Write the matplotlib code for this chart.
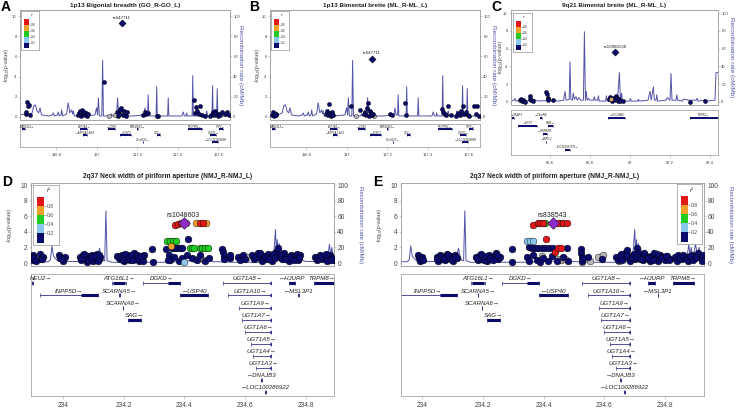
import numpy as np
import matplotlib
matplotlib.use("Agg")
import matplotlib.pyplot as plt

plt.rcParams['font.family'] = ['Liberation Sans', 'DejaVu Sans']

# ---------------- LD legend ----------------
r2_breaks = [0.0, 0.2, 0.4, 0.6, 0.8, 1.0]
r2_colors = ['#0B0B6E', '#8CC8EE', '#22CC22', '#F2A22A', '#E01818']
na_color = '#B8B8B8'
index_color = '#8E2BC9'

# ---------------- panel A : 1p13 GO ----------------
a_navy_pos = [116.648, 116.652, 116.656, 116.660, 116.664, 116.668,
              116.905, 116.910, 116.915, 116.920, 116.925, 116.930, 116.935, 116.940, 116.945, 116.950, 116.955,
              117.035,
              117.100, 117.105, 117.110, 117.115, 117.120, 117.130, 117.135, 117.140, 117.145, 117.150,
              117.228, 117.236, 117.244, 117.252, 117.295, 117.300,
              117.478, 117.484, 117.490, 117.496, 117.502, 117.510, 117.520, 117.535,
              117.560, 117.566, 117.572, 117.578, 117.584, 117.590, 117.596, 117.602, 117.610, 117.618,
              117.632, 117.642, 117.650]
a_navy_logp = [0.3, 0.5, 1.5, 1.1, 1.2, 0.2,
               0.2, 0.4, 0.6, 0.1, 0.7, 0.3, 0.5, 0.2, 0.4, 0.1, 0.3,
               3.45,
               0.5, 0.1, 0.3, 0.7, 0.9, 0.2, 0.6, 0.4, 0.1, 0.5,
               0.2, 0.5, 0.3, 0.4, 0.1, 0.1,
               1.7, 0.4, 1.0, 0.6, 0.3, 1.1, 0.2, 0.1,
               0.1, 0.3, 0.5, 0.2, 0.6, 0.4, 0.1, 0.3, 0.2, 0.5,
               0.3, 0.5, 0.2]
a_gray_pos = [117.060, 117.090, 117.125]
a_gray_logp = [0.1, 0.15, 0.35]
a_index = (117.123, 9.3, 'rs647711')

# ---------------- panel B : 1p13 ML ----------------
b_navy_pos = [116.630, 116.636, 116.642, 116.648, 116.652,
              116.895, 116.900, 116.905, 116.910, 116.915, 116.920, 116.925, 116.930,
              117.020, 117.065,
              117.085, 117.090, 117.095, 117.100, 117.105, 117.110, 117.115, 117.120, 117.125, 117.130,
              117.215, 117.222, 117.288, 117.292,
              117.470, 117.476, 117.482, 117.488, 117.500, 117.515,
              117.540, 117.548, 117.556, 117.564, 117.572, 117.580, 117.588, 117.596, 117.604,
              117.628, 117.636, 117.644, 117.650]
b_navy_logp = [0.2, 0.5, 0.1, 0.3, 0.2,
               0.3, 0.6, 0.2, 1.25, 0.4, 0.1, 0.5, 0.2,
               1.1, 0.7,
               0.3, 0.5, 0.2, 0.9, 1.4, 0.1, 0.6, 0.4, 0.2, 0.3,
               0.25, 0.2, 1.4, 0.2,
               0.8, 0.5, 0.3, 0.2, 1.1, 0.2,
               0.1, 0.4, 0.2, 0.6, 1.1, 0.3, 0.5, 0.2, 0.1,
               1.1, 0.3, 1.1, 0.1]
b_gray_pos = [117.045, 117.135]
b_gray_logp = [0.05, 0.1]
b_index = (117.123, 5.75, 'rs647711')

# recombination rate, chr1 (A and B)
ab_rec_pos = [116.620, 116.648, 116.652, 116.658, 116.680, 116.688, 116.696, 116.704, 116.712, 116.719,
              116.726, 116.760, 116.780, 116.784, 116.790, 116.805, 116.809, 116.814, 116.822, 116.826,
              116.830, 116.850, 116.858, 116.866, 116.875, 116.880, 116.883, 116.888, 116.900, 116.910,
              116.920, 116.930, 116.940, 116.990, 116.998, 117.003, 117.007, 117.012, 117.024, 117.028,
              117.032, 117.068, 117.072, 117.076, 117.097, 117.102, 117.106, 117.110, 117.115, 117.180,
              117.232, 117.237, 117.242, 117.250, 117.253, 117.256, 117.292, 117.295, 117.298, 117.349,
              117.352, 117.355, 117.420, 117.426, 117.432, 117.440, 117.443, 117.447, 117.470, 117.473,
              117.476, 117.495, 117.500, 117.504, 117.538, 117.542, 117.546, 117.568, 117.571, 117.574,
              117.591, 117.594, 117.597, 117.660]
ab_rec_rate = [2, 3, 5, 2, 4, 11, 12, 6, 4, 9,
               2, 1, 2, 4, 1, 2, 5, 1, 2, 7,
               1, 3, 14, 4, 7, 3, 6, 1, 1, 3,
               1, 3, 1, 2, 9, 2, 19, 1, 1, 56,
               1, 1, 3, 1, 2, 19, 4, 9, 1, 1,
               2, 9, 2, 2, 22, 1, 1, 30, 1, 1,
               19, 1, 1, 5, 1, 1, 4, 1, 1, 41,
               1, 1, 6, 1, 1, 6, 1, 1, 31, 1,
               1, 28, 1, 1]

ab_gene_names = ['MAB21L3', 'ATP1A1', 'CD58', 'MIR320B1', 'PTGFRN', 'TTF2',
                 'ATP1A1-AS1', 'IGSF3', 'CD2', 'CD101', 'C1orf137', 'LOC101929099']
ab_gene_start = [116.630, 116.916, 117.054, 117.200, 117.452, 117.602,
                 116.930, 117.115, 117.296, 117.560, 117.227, 117.570]
ab_gene_end = [116.645, 116.950, 117.090, 117.202, 117.520, 117.620,
               116.950, 117.170, 117.310, 117.590, 117.229, 117.600]
ab_gene_row = [0, 0, 0, 0, 0, 0, 1, 1, 1, 1, 2, 2]
ab_gene_strand = ['+', '+', '-', '+', '+', '+', '-', '-', '+', '+', '+', '-']

# ---------------- panel C : 9q21 ML ----------------
c_navy_pos = [86.450, 86.455, 86.460, 86.465, 86.470, 86.475,
              86.498, 86.500, 86.503, 86.515,
              86.582, 86.585, 86.588, 86.590, 86.592,
              86.615,
              86.895, 86.900, 86.910, 86.915, 86.920, 86.930, 86.935, 86.940, 86.945, 86.950,
              86.965,
              87.300, 87.375]
c_navy_logp = [0.2, 0.3, 0.1, 0.25, 0.15, 0.05,
               0.7, 0.35, 0.2, 0.1,
               1.15, 0.9, 0.5, 0.3, 0.2,
               0.25,
               0.3, 0.6, 0.1, 0.5, 0.2, 0.7, 0.4, 0.15, 0.3, 0.1,
               0.1,
               0.05, 0.15]
c_orange_pos = [86.905]
c_orange_logp = [0.35]
c_index = (86.925, 5.65, 'rs10868138')

c_rec_pos = [86.405, 86.420, 86.425, 86.430, 86.450, 86.460, 86.470, 86.500, 86.520, 86.540,
             86.620, 86.640, 86.668, 86.675, 86.680, 86.696, 86.700, 86.704, 86.712, 86.716,
             86.722, 86.730, 86.736, 86.745, 86.752, 86.767, 86.772, 86.777, 86.781, 86.786,
             86.792, 86.800, 86.818, 86.822, 86.826, 86.838, 86.842, 86.846, 86.878, 86.882,
             86.886, 86.936, 86.941, 86.947, 86.952, 86.958, 86.962, 86.966, 86.998, 87.002,
             87.006, 87.038, 87.042, 87.046, 87.090, 87.100, 87.106, 87.117, 87.122, 87.130,
             87.134, 87.138, 87.180, 87.186, 87.200, 87.205, 87.210, 87.230, 87.234, 87.238,
             87.262, 87.266, 87.300, 87.330, 87.335, 87.340, 87.370, 87.374, 87.378, 87.425,
             87.430, 87.440]
c_rec_rate = [1, 2, 4, 1, 2, 4, 2, 1, 3, 1,
              2, 1, 2, 12, 2, 3, 45, 3, 2, 10,
              3, 6, 2, 5, 2, 2, 79, 2, 12, 2,
              4, 2, 2, 6, 2, 2, 7, 1, 1, 7,
              1, 2, 13, 33, 2, 10, 2, 1, 1, 4,
              1, 1, 3, 1, 2, 12, 2, 17, 2, 2,
              8, 1, 2, 5, 2, 32, 2, 2, 8, 2,
              1, 3, 2, 2, 4, 1, 2, 3, 1, 2,
              33, 33]

c_gene_names = ['GKAP1', 'C9orf64', 'SLC28A3', 'NTRK2', 'KIF27', 'RMI1', 'HNRNPK', 'MIR7-1', 'LOC101927570']
c_gene_start = [86.410, 86.550, 86.890, 87.300, 86.440, 86.590, 86.565, 86.580, 86.675]
c_gene_end = [86.420, 86.560, 86.975, 87.440, 86.535, 86.615, 86.585, 86.582, 86.700]
c_gene_row = [0, 0, 0, 0, 1, 1, 2, 3, 4]
c_gene_strand = ['-', '-', '-', '+', '-', '+', '-', '-', '+']

# ---------------- panel D : 2q37 NMJ, rs1048603 ----------------
d_navy_pos = [233.899, 233.899, 233.902, 233.924, 233.926, 233.932,
              233.985, 233.990, 234.001, 234.007,
              234.054, 234.058, 234.065, 234.073, 234.078, 234.084, 234.089, 234.095, 234.100, 234.106,
              234.111, 234.117, 234.122,
              234.179, 234.186, 234.193, 234.199, 234.206, 234.212, 234.219, 234.227, 234.232, 234.238,
              234.243, 234.249, 234.254, 234.260, 234.265,
              234.293, 234.295,
              234.348, 234.353, 234.359, 234.364, 234.366, 234.375, 234.381, 234.384, 234.392, 234.392,
              234.408, 234.410, 234.425, 234.441, 234.452, 234.469, 234.480,
              234.524, 234.527, 234.529, 234.531, 234.549, 234.551,
              234.575, 234.584, 234.593, 234.601,
              234.623, 234.628, 234.634, 234.641, 234.648, 234.656, 234.661, 234.669, 234.675, 234.683,
              234.689, 234.696, 234.703, 234.707, 234.714, 234.722, 234.729, 234.736, 234.744, 234.751,
              234.758, 234.766, 234.773, 234.780,
              234.832, 234.837, 234.846, 234.854, 234.861, 234.870, 234.879, 234.887, 234.892,
              233.905, 233.912, 233.930, 233.995, 234.062, 234.069, 234.081, 234.092, 234.103, 234.114,
              234.119, 234.183, 234.190, 234.196, 234.203, 234.209, 234.216, 234.223, 234.230, 234.246,
              234.257, 234.262, 234.338, 234.345, 234.650, 234.664, 234.679, 234.692, 234.700, 234.718,
              234.733, 234.748, 234.762, 234.770, 234.777, 234.840, 234.850, 234.866, 234.884]
d_navy_logp = [1.03, 0.39, 0.73, 1.12, 0.47, 0.82,
               1.03, 0.6, 0.3, 0.82,
               0.82, 0.39, 1.03, 0.6, 0.17, 0.9, 0.47, 1.03, 0.3, 0.73,
               1.12, 0.47, 0.82,
               0.9, 0.47, 1.03, 0.3, 0.73, 1.03, 0.39, 0.82, 1.24, 0.6,
               1.03, 0.3, 0.82, 0.47, 1.03,
               1.8, 0.09,
               1.03, 0.39, 1.89, 0.82, 1.89, 1.89, 0.3, 1.89, 1.89, 0.6,
               1.03, 3.05, 0.6, 0.39, 1.03, 0.3, 0.6,
               1.8, 1.37, 0.94, 0.52, 0.6, 1.03,
               0.82, 0.39, 1.03, 0.52,
               1.03, 0.47, 0.82, 1.24, 0.6, 0.3, 0.9, 0.47, 1.12, 0.69,
               0.3, 1.03, 1.46, 1.89, 0.82, 0.47, 1.24, 0.73, 0.3, 1.03,
               0.6, 0.9, 0.39, 1.03,
               0.82, 0.39, 1.03, 0.47, 0.73, 0.3, 1.03, 0.6, 0.39,
               0.6, 0.3, 0.5, 0.5, 0.6, 1.1, 0.35, 0.7, 0.95, 0.3,
               1.0, 0.6, 0.8, 0.4, 1.1, 0.5, 0.7, 1.0, 0.35, 0.6,
               0.85, 0.3, 1.8, 0.4, 1.3, 0.75, 0.5, 1.1, 0.6, 1.05,
               0.55, 0.8, 0.4, 1.2, 0.65, 0.6, 0.9, 1.1, 0.45]
d_lblue_pos = [234.400]
d_lblue_logp = [0.17]
d_green_pos = [234.344, 234.353, 234.362, 234.371, 234.417, 234.426, 234.433, 234.450, 234.459, 234.468, 234.476]
d_green_logp = [2.88, 2.88, 2.88, 2.88, 1.89, 1.89, 1.89, 1.89, 1.89, 1.89, 1.89]
d_orange_pos = [234.355, 234.406, 234.439, 234.472]
d_orange_logp = [2.19, 5.19, 5.19, 5.19]
d_red_pos = [234.370, 234.378, 234.387, 234.452, 234.461]
d_red_logp = [4.94, 5.02, 5.19, 5.19, 5.19]
d_gray_pos = [234.436, 234.463, 234.606]
d_gray_logp = [0.47, 0.39, 0.73]
d_index = (234.397, 5.19, 'rs1048603')

# ---------------- panel E : 2q37 NMJ, rs838543 ----------------
e_navy_pos = [233.988, 233.991, 233.993, 233.999,
              234.048, 234.054, 234.059, 234.065, 234.070, 234.076, 234.081, 234.089, 234.095, 234.103,
              234.109, 234.114,
              234.178, 234.185, 234.191, 234.198, 234.207, 234.215, 234.221, 234.229, 234.237, 234.243,
              234.251, 234.257,
              234.295, 234.297,
              234.353, 234.361, 234.372, 234.383, 234.394, 234.405, 234.419, 234.432, 234.476,
              234.344, 234.353, 234.366, 234.377, 234.388, 234.399, 234.416, 234.427, 234.443, 234.465,
              234.481,
              234.522, 234.524, 234.526, 234.528, 234.547, 234.591,
              234.640, 234.646, 234.654, 234.662, 234.668, 234.673, 234.679, 234.686, 234.693, 234.701,
              234.706, 234.712, 234.717, 234.726, 234.734, 234.741, 234.750, 234.755, 234.763, 234.770,
              234.777, 234.783, 234.792, 234.799, 234.807, 234.816,
              234.832, 234.838, 234.843, 234.854, 234.865, 234.876, 234.887, 234.898, 234.909, 234.914,
              234.920, 234.925,
              233.995, 234.002, 234.051, 234.062, 234.073, 234.085, 234.099, 234.111, 234.181, 234.195,
              234.203, 234.211, 234.225, 234.233, 234.247, 234.530, 234.650, 234.659, 234.676, 234.690,
              234.697, 234.709, 234.722, 234.730, 234.745, 234.759, 234.774, 234.788, 234.803, 234.812,
              234.848, 234.860, 234.871, 234.882, 234.893, 234.903]
e_navy_logp = [1.03, 0.6, 0.3, 0.82,
               0.82, 0.3, 1.03, 0.52, 0.82, 0.39, 1.12, 0.6, 0.9, 0.3,
               1.03, 0.6,
               0.82, 0.39, 1.03, 0.52, 0.82, 0.3, 1.03, 0.6, 0.9, 1.24,
               0.47, 0.82,
               1.8, 0.09,
               2.06, 1.89, 1.89, 1.89, 1.89, 1.89, 1.89, 1.89, 1.89,
               0.82, 0.3, 1.03, 0.39, 0.17, 0.6, 0.3, 0.9, 0.3, 0.82,
               0.3,
               1.8, 1.24, 0.82, 0.3, 0.82, 0.47,
               0.82, 0.39, 1.12, 0.6, 1.24, 1.67, 0.82, 0.3, 1.03, 0.52,
               1.89, 1.24, 0.82, 0.39, 1.03, 0.6, 0.3, 0.9, 1.24, 0.6,
               0.3, 1.03, 0.73, 0.39, 0.9, 0.47,
               0.82, 0.3, 1.03, 0.52, 0.82, 0.3, 1.03, 0.6, 1.33, 0.82,
               0.3, 1.03,
               0.5, 0.4, 0.5, 0.9, 0.6, 1.0, 0.45, 0.8, 0.6, 1.1,
               0.4, 0.9, 0.7, 0.35, 1.0, 0.6, 0.9, 0.45, 1.0, 0.6,
               1.2, 0.8, 0.55, 1.3, 0.7, 0.45, 1.1, 0.6, 0.95, 0.4,
               0.7, 1.05, 0.5, 0.9, 0.4, 0.75]
e_lblue_pos = [234.344, 234.355, 234.366]
e_lblue_logp = [2.88, 2.88, 2.88]
e_green_pos = [234.405, 234.457]
e_green_logp = [5.1, 5.1]
e_red_pos = [234.366, 234.383, 234.390, 234.399, 234.448, 234.465, 234.476, 234.407, 234.438, 234.448, 234.459]
e_red_logp = [4.9, 5.1, 5.1, 5.1, 5.1, 5.1, 5.1, 3.05, 1.46, 1.89, 1.89]
e_gray_pos = [234.394, 234.448, 234.459, 234.470, 234.526, 234.553, 234.580, 234.596, 234.649, 234.719, 234.761]
e_gray_logp = [0.9, 0.47, 0.39, 0.47, 0.09, 0.3, 0.82, 1.03, 0.3, 0.47, 0.73]
e_index = (234.430, 5.1, 'rs838543')

# recombination rate, chr2 (D and E)
de_rec_pos = [233.890, 233.920, 233.950, 233.958, 233.963, 233.968, 233.974, 233.982, 233.995,
              234.050, 234.100, 234.112, 234.120, 234.126, 234.132, 234.137, 234.141, 234.145, 234.160,
              234.250, 234.330, 234.400, 234.420, 234.440, 234.460, 234.480, 234.560, 234.640, 234.690,
              234.696, 234.700, 234.703, 234.706, 234.709, 234.712, 234.716, 234.720, 234.725, 234.730,
              234.735, 234.740, 234.750, 234.760, 234.770, 234.780, 234.800, 234.840, 234.850, 234.860,
              234.870, 234.875, 234.878, 234.882, 234.886, 234.890, 234.895, 234.900, 234.906, 234.912,
              234.920, 234.930]
de_rec_rate = [3, 2, 1.5, 4, 22, 9, 6, 3, 2,
               2, 1.5, 5, 19, 7, 3, 3, 67, 3, 1,
               1, 1, 2, 3, 2, 3, 2, 1, 1, 2,
               20, 43, 14, 30, 12, 25, 10, 18, 8, 15,
               6, 10, 4, 8, 3, 5, 2, 2, 4, 2,
               6, 15, 24, 10, 20, 8, 12, 25, 10, 20,
               6, 3]

de_gene_names = ['NEU2', 'ATG16L1', 'DGKD', 'UGT1A8', 'HJURP', 'TRPM8',
                 'INPP5D', 'SCARNA5', 'USP40', 'UGT1A10', 'MSL3P1',
                 'SCARNA6', 'UGT1A9', 'SAG', 'UGT1A7', 'UGT1A6', 'UGT1A5', 'UGT1A4', 'UGT1A3',
                 'DNAJB3', 'LOC100286922']
de_gene_start = [233.897, 234.162, 234.263, 234.527, 234.745, 234.826,
                 233.924, 234.184, 234.386, 234.545, 234.775,
                 234.196, 234.581, 234.215, 234.589, 234.600, 234.619, 234.625, 234.637,
                 234.652, 234.666]
de_gene_end = [233.900, 234.208, 234.386, 234.686, 234.766, 234.894,
               234.116, 234.186, 234.479, 234.686, 234.777,
               234.198, 234.686, 234.257, 234.686, 234.686, 234.686, 234.686, 234.686,
               234.654, 234.668]
de_exon_start = [233.897, 234.165, 234.345, 234.682, 234.745, 234.826,
                 234.060, 234.184, 234.386, 234.682, 234.775,
                 234.196, 234.682, 234.215, 234.682, 234.682, 234.682, 234.682, 234.682,
                 234.652, 234.666]
de_exon_end = [233.900, 234.205, 234.386, 234.686, 234.766, 234.894,
               234.116, 234.186, 234.479, 234.686, 234.777,
               234.198, 234.686, 234.257, 234.686, 234.686, 234.686, 234.686, 234.686,
               234.654, 234.668]
de_gene_row = [0, 0, 0, 0, 0, 0, 1, 1, 1, 1, 1, 2, 2, 3, 3, 4, 5, 6, 7, 8, 9]
de_gene_strand = ['+', '+', '+', '+', '-', '+', '+', '+', '-', '+', '-',
                  '+', '+', '+', '+', '+', '+', '+', '+', '-', '-']

# ---------------- drawing ----------------
W, H = 738, 412
fig = plt.figure(figsize=(W / 100, H / 100), dpi=100)

rec_color = '#5252A8'
gene_color = '#0B0B6E'
frame_color = '#A6A6A6'
text_color = '#444444'


def px_axes(l, t, r, b):
    return fig.add_axes([l / W, 1 - b / H, (r - l) / W, (b - t) / H])


def frame(ax):
    for sp in ax.spines.values():
        sp.set_color(frame_color)
        sp.set_linewidth(0.6)


def draw_main(box, xlim, ylim, layers, idx, rec_pos, rec_rate, s, tick_fs, lab_fs, rlab_fs, idx_fs, idx_off,
              lab_x, rlab_x):
    ax = px_axes(*box)
    rax = ax.twinx()
    rax.plot(rec_pos, rec_rate, color=rec_color, lw=0.7)
    rax.set_ylim(ylim[0] * 10, ylim[1] * 10)
    ax.set_zorder(rax.get_zorder() + 1)
    ax.patch.set_visible(False)
    for pos, logp, col in layers:
        ax.scatter(pos, logp, s=s, c=col, edgecolors='black', linewidths=0.3, zorder=3)
    ip, il, name, icol = idx
    ax.scatter([ip], [il], s=s * 1.5, marker='D', c=icol, edgecolors='black', linewidths=0.3, zorder=4)
    ax.text(ip, il + idx_off, name, ha='center', va='bottom', fontsize=idx_fs, color='#222222')
    ax.set_xlim(xlim)
    ax.set_ylim(ylim)
    ax.set_xticks([])
    ax.set_yticks(range(0, 11, 2))
    rax.set_yticks(range(0, 101, 20))
    for a in (ax, rax):
        frame(a)
        a.tick_params(axis='y', length=1.6, width=0.4, color=frame_color, labelsize=tick_fs,
                      labelcolor=text_color, pad=0.8)
    wpx = box[2] - box[0]
    ax.set_ylabel('-log\u2081\u2080(p-value)', fontsize=lab_fs, color=text_color, va='center')
    ax.yaxis.set_label_coords((lab_x - box[0]) / wpx, 0.5)
    rax.set_ylabel('Recombination rate (cM/Mb)', fontsize=rlab_fs, color=rec_color,
                   rotation=-90, va='center')
    rax.yaxis.set_label_coords((rlab_x - box[0]) / wpx, 0.5)
    return ax


def draw_legend(box, fs):
    lax = px_axes(*box)
    lax.set_xlim(0, 1)
    lax.set_ylim(0, 1)
    lax.set_xticks([])
    lax.set_yticks([])
    frame(lax)
    lo = np.array(r2_breaks[:-1])
    hi = np.array(r2_breaks[1:])
    lax.bar(0.3, (hi - lo) * 0.76, bottom=0.04 + lo * 0.76, width=0.26, color=r2_colors, edgecolor='none')
    for b in r2_breaks[1:-1]:
        y = 0.04 + b * 0.76
        lax.plot([0.43, 0.5], [y, y], color='#777777', lw=0.4)
        lax.text(0.54, y, f'{b:.1f}', fontsize=fs, va='center', color=text_color)
    lax.text(0.6, 0.9, 'r\u00b2', fontsize=fs * 1.2, ha='center', va='center', color=text_color)


def draw_genes(box, xlim, ylim, names, starts, ends, ex_s, ex_e, rows, strands, fs, lw_thin, lw_thick,
               bar_off, ticks, tick_fs):
    gax = px_axes(*box)
    gax.set_xlim(xlim)
    gax.set_ylim(ylim)
    frame(gax)
    span = xlim[1] - xlim[0]
    width_px = box[2] - box[0]
    for name, st, en, xs, xe, row, strand in zip(names, starts, ends, ex_s, ex_e, rows, strands):
        if en < xlim[0] or st > xlim[1]:
            continue
        y = row + bar_off
        gax.plot([st, en], [y, y], color=gene_color, lw=lw_thin, solid_capstyle='butt')
        gax.plot([st, en], [y, y], ls='none', marker='|', ms=lw_thick * 1.3, mew=0.4, color=gene_color)
        gax.plot([xs, xe], [y, y], color=gene_color, lw=lw_thick, solid_capstyle='butt')
        label = name + '\u2192' if strand == '+' else '\u2190' + name
        half = len(label) * fs * 1.39 * 0.3 / width_px * span
        cx = min(max((st + en) / 2, xlim[0] + half + 0.002 * span), xlim[1] - half - 0.002 * span)
        gax.text(cx, row, label, ha='center', va='center', fontsize=fs, style='italic', color='#222222')
    gax.set_yticks([])
    gax.set_xticks(ticks)
    gax.set_xticklabels([f'{t:g}' for t in ticks])
    gax.tick_params(axis='x', length=2.5, width=0.4, color=frame_color, labelsize=tick_fs,
                    labelcolor=text_color, pad=2)
    return gax


# panel A
ab_xlim = (116.620, 117.657)
ab_ylim = (-0.3, 10.6)
ab_ticks = [116.8, 117.0, 117.2, 117.4, 117.6]
draw_main((20, 10, 230, 120), ab_xlim, ab_ylim,
          [(a_gray_pos, a_gray_logp, na_color), (a_navy_pos, a_navy_logp, r2_colors[0])],
          a_index + (r2_colors[0],), ab_rec_pos, ab_rec_rate, 9, 3.0, 3.8, 4.6, 3.2, 0.35, 6, 240.5)
draw_legend((21, 11, 39, 50), 2.4)
draw_genes((20, 124, 230, 147), ab_xlim, (3.15, -0.38), ab_gene_names, ab_gene_start, ab_gene_end,
           ab_gene_start, ab_gene_end, ab_gene_row, ab_gene_strand, 2.0, 0.4, 1.4, 0.32, ab_ticks, 3.0)

# panel B
draw_main((270, 10, 480, 120), ab_xlim, ab_ylim,
          [(b_gray_pos, b_gray_logp, na_color), (b_navy_pos, b_navy_logp, r2_colors[0])],
          b_index + (r2_colors[0],), ab_rec_pos, ab_rec_rate, 9, 3.0, 3.8, 4.6, 3.2, 0.35, 257, 493.5)
draw_legend((271, 11, 289, 50), 2.4)
draw_genes((270, 124, 480, 147), ab_xlim, (3.15, -0.38), ab_gene_names, ab_gene_start, ab_gene_end,
           ab_gene_start, ab_gene_end, ab_gene_row, ab_gene_strand, 2.0, 0.4, 1.4, 0.32, ab_ticks, 3.0)

# panel C
c_xlim = (86.405, 87.44)
draw_main((511, 10, 718, 105), c_xlim, (-0.34, 10.34),
          [(c_navy_pos, c_navy_logp, r2_colors[0]), (c_orange_pos, c_orange_logp, '#D8B070')],
          c_index + (r2_colors[0],), c_rec_pos, c_rec_rate, 9, 3.0, 3.8, 4.6, 3.2, 0.35, 500, 731.5)
draw_legend((513, 13, 532, 52), 2.4)
draw_genes((511, 110, 718, 155), c_xlim, (4.94, -0.62), c_gene_names, c_gene_start, c_gene_end,
           c_gene_start, c_gene_end, c_gene_row, c_gene_strand, 2.0, 0.4, 1.4, 0.35,
           [86.6, 86.8, 87.0, 87.2, 87.4], 3.0)

# panels D and E
d_xlim = (233.894, 234.893)
e_xlim = (233.931, 234.928)
de_ylim = (-0.38, 10.26)
de_ticks = [234.0, 234.2, 234.4, 234.6, 234.8]
draw_main((31, 183, 334, 266), d_xlim, de_ylim,
          [(d_gray_pos, d_gray_logp, na_color), (d_navy_pos, d_navy_logp, r2_colors[0]),
           (d_lblue_pos, d_lblue_logp, r2_colors[1]), (d_green_pos, d_green_logp, r2_colors[2]),
           (d_orange_pos, d_orange_logp, r2_colors[3]), (d_red_pos, d_red_logp, r2_colors[4])],
          d_index + (index_color,), de_rec_pos, de_rec_rate, 24, 4.8, 3.8, 4.4, 5.0, 0.5, 9, 360)
draw_legend((33, 185, 59, 245), 3.6)
draw_genes((31, 274, 334, 396), d_xlim, (9.67, -0.41), de_gene_names, de_gene_start, de_gene_end,
           de_exon_start, de_exon_end, de_gene_row, de_gene_strand, 4.4, 0.5, 2.2, 0.36, de_ticks, 4.8)

draw_main((401, 183, 704, 266), e_xlim, de_ylim,
          [(e_gray_pos, e_gray_logp, na_color), (e_navy_pos, e_navy_logp, r2_colors[0]),
           (e_lblue_pos, e_lblue_logp, r2_colors[1]), (e_green_pos, e_green_logp, r2_colors[2]),
           (e_red_pos, e_red_logp, r2_colors[4])],
          e_index + (index_color,), de_rec_pos, de_rec_rate, 24, 4.8, 3.8, 4.4, 5.0, 0.5, 379, 730)
draw_legend((677, 184, 702, 244), 3.6)
draw_genes((401, 274, 704, 396), e_xlim, (9.67, -0.41), de_gene_names, de_gene_start, de_gene_end,
           de_exon_start, de_exon_end, de_gene_row, de_gene_strand, 4.4, 0.5, 2.2, 0.36, de_ticks, 4.8)

# titles and panel letters
title_kw = dict(ha='center', va='center', fontweight='bold', color='#222222')
fig.text(125 / W, 1 - 5 / H, '1p13 Bigonial breadth (GO_R-GO_L)', fontsize=4.6, **title_kw)
fig.text(375 / W, 1 - 5 / H, '1p13 Bimental breite (ML_R-ML_L)', fontsize=4.6, **title_kw)
fig.text(614 / W, 1 - 5 / H, '9q21 Bimental breite (ML_R-ML_L)', fontsize=4.6, **title_kw)
fig.text(168 / W, 1 - 176 / H, '2q37 Neck width of piriform aperture (NMJ_R-NMJ_L)', fontsize=4.8, **title_kw)
fig.text(555 / W, 1 - 176 / H, '2q37 Neck width of piriform aperture (NMJ_R-NMJ_L)', fontsize=4.8, **title_kw)

letter_kw = dict(ha='left', va='top', fontweight='bold', fontsize=10, color='black')
fig.text(1 / W, 1 - 0 / H, 'A', **letter_kw)
fig.text(249 / W, 1 - 0 / H, 'B', **letter_kw)
fig.text(491 / W, 1 - 0 / H, 'C', **letter_kw)
fig.text(2 / W, 1 - 175 / H, 'D', **letter_kw)
fig.text(373 / W, 1 - 175 / H, 'E', **letter_kw)

fig.savefig('out.png', dpi=100)
plt.close(fig)
